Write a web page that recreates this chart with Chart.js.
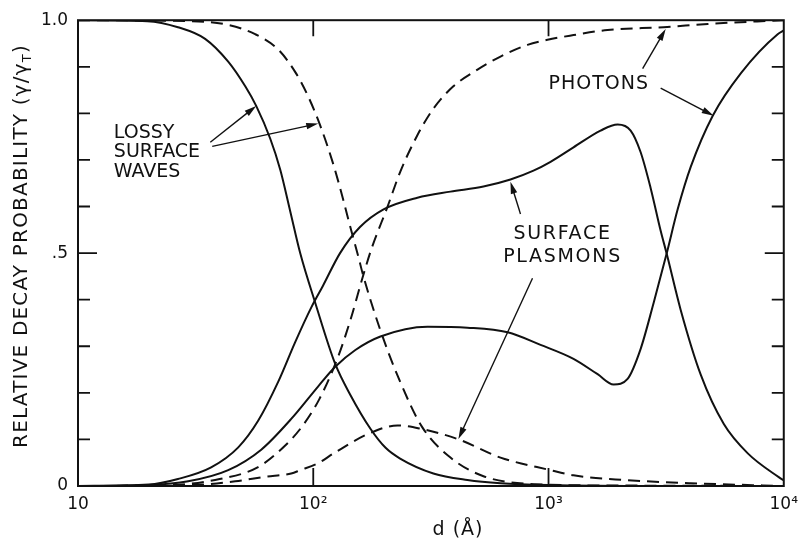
<!DOCTYPE html>
<html>
<head>
<meta charset="utf-8">
<script src="https://cdn.jsdelivr.net/npm/chart.js@4.4.1/dist/chart.umd.min.js"></script>
<style>
  html, body { margin: 0; padding: 0; background: #fff; }
  #wrap { width: 806px; height: 542px; }
</style>
</head>
<body>
<div id="wrap"><canvas id="chart" width="806" height="542"></canvas></div>
<script>
// separation d in Å, relative decay probability gamma/gamma_T
const lossySolidD = [10, 19.7, 26.6, 34.7, 43.5, 51.4, 57.2, 65.6, 72.4, 79.8, 88.1, 102, 124, 144, 175, 203, 234, 324, 452, 625, 1000, 3000, 10000];
const lossySolidV = [1.0, 0.998, 0.985, 0.96, 0.911, 0.858, 0.816, 0.746, 0.679, 0.59, 0.499, 0.393, 0.262, 0.195, 0.123, 0.082, 0.059, 0.027, 0.013, 0.006, 0.002, 0, 0];

const lossyDashedD = [10, 30, 43.5, 56.6, 71, 84, 95, 107, 122, 134, 146, 155, 163, 193, 234, 290, 383, 529, 863, 2000, 10000];
const lossyDashedV = [1.0, 0.998, 0.99, 0.97, 0.937, 0.888, 0.837, 0.774, 0.689, 0.615, 0.543, 0.495, 0.452, 0.334, 0.224, 0.127, 0.061, 0.021, 0.004, 0.001, 0];

const photonsDashedD = [10, 25, 40, 58, 76, 90, 106, 127, 144, 163, 177, 207, 234, 277, 324, 394, 499, 625, 814, 990, 1277, 1782, 3085, 4753, 10000];
const photonsDashedV = [0, 0.002, 0.015, 0.04, 0.087, 0.129, 0.186, 0.275, 0.357, 0.452, 0.51, 0.6, 0.674, 0.753, 0.81, 0.858, 0.894, 0.922, 0.947, 0.958, 0.968, 0.979, 0.985, 0.992, 1.0];

const plasmonsDashedD = [10, 30, 46.6, 62.5, 80.6, 88, 105, 122, 175, 228, 285, 410, 625, 1020, 1277, 2086, 4022, 10000];
const plasmonsDashedV = [0, 0.002, 0.01, 0.02, 0.027, 0.034, 0.049, 0.07, 0.114, 0.13, 0.123, 0.101, 0.061, 0.034, 0.023, 0.013, 0.006, 0];

const plasmonsSolidD = [10, 20, 26.6, 36.8, 48, 58.3, 71, 83.8, 98, 110, 130, 158, 199, 277, 383, 529, 689, 863, 1020, 1277, 1664, 1968, 2234, 2462, 2716, 2997, 3178, 3646, 4436, 5561, 7031, 9520, 10000];
const plasmonsSolidV = [0, 0.003, 0.015, 0.04, 0.083, 0.14, 0.224, 0.309, 0.383, 0.43, 0.5, 0.556, 0.594, 0.619, 0.632, 0.643, 0.658, 0.677, 0.696, 0.727, 0.763, 0.776, 0.763, 0.717, 0.64, 0.548, 0.499, 0.378, 0.239, 0.133, 0.07, 0.019, 0.012];

const photonsSolidD = [10, 20, 29.4, 43.5, 60.1, 80.6, 105, 124, 151, 193, 306, 452, 670, 925, 1277, 1617, 1891, 2168, 2462, 2797, 3178, 3540, 4022, 4990, 6565, 9420, 10000];
const photonsSolidV = [0, 0.002, 0.01, 0.034, 0.078, 0.144, 0.214, 0.256, 0.292, 0.321, 0.342, 0.34, 0.33, 0.303, 0.273, 0.24, 0.218, 0.23, 0.294, 0.393, 0.499, 0.594, 0.685, 0.795, 0.886, 0.97, 0.978];

const xTicks = [10, 100, 1000, 10000];
const xTickLabels = ["10", "10²", "10³", "10⁴"];
const yTicks = [0, 0.5, 1.0];
const yTickLabels = ["0", ".5", "1.0"];
const yMinorTicks = [0.1, 0.2, 0.3, 0.4, 0.6, 0.7, 0.8, 0.9];

// labels and arrows, anchored in data coordinates
const labels = [
  { lines: ["LOSSY", "SURFACE", "WAVES"], d: 14.2, v: [0.748, 0.706, 0.664], align: "left", spacing: 0 },
  { lines: ["PHOTONS"], d: 1000, v: [0.852], align: "left", spacing: 1 },
  { lines: ["SURFACE", "PLASMONS"], d: 1147, v: [0.531, 0.48], align: "center", spacing: 1.7 },
];
const arrows = [
  [36.5, 0.738, 57.2, 0.816],
  [37.2, 0.729, 105, 0.778],
  [2512, 0.896, 3148, 0.981],
  [2997, 0.854, 5036, 0.795],
  [760, 0.584, 689, 0.653],
  [855, 0.446, 414, 0.101],
];

const INK = "#111";
const FONT = "DejaVu Sans";

function pts(ds, vs) {
  return ds.map((d, i) => ({ x: d, y: vs[i] }));
}

function line(ds, vs, dashed) {
  return {
    data: pts(ds, vs),
    borderColor: INK,
    borderWidth: 2,
    borderDash: dashed ? [12, 7] : [],
    pointRadius: 0,
    fill: false,
    cubicInterpolationMode: "monotone",
  };
}

function drawArrow(ctx, x1, y1, x2, y2) {
  const a = Math.atan2(y2 - y1, x2 - x1);
  const len = 12, half = 3.3;
  ctx.beginPath();
  ctx.moveTo(x1, y1);
  ctx.lineTo(x2 - Math.cos(a) * len * 0.8, y2 - Math.sin(a) * len * 0.8);
  ctx.stroke();
  ctx.beginPath();
  ctx.moveTo(x2, y2);
  ctx.lineTo(x2 - Math.cos(a) * len + Math.sin(a) * half, y2 - Math.sin(a) * len - Math.cos(a) * half);
  ctx.lineTo(x2 - Math.cos(a) * len - Math.sin(a) * half, y2 - Math.sin(a) * len + Math.cos(a) * half);
  ctx.closePath();
  ctx.fill();
}

const decorations = {
  id: "decorations",
  afterDatasetsDraw(chart) {
    const { ctx, chartArea: a, scales: { x, y } } = chart;
    ctx.save();
    ctx.strokeStyle = INK;
    ctx.fillStyle = INK;
    ctx.setLineDash([]);

    // frame
    ctx.lineWidth = 2;
    ctx.strokeRect(a.left, a.top, a.right - a.left, a.bottom - a.top);

    // inward tick marks
    ctx.lineWidth = 1.8;
    ctx.beginPath();
    yMinorTicks.concat([0.5]).forEach((v) => {
      const py = y.getPixelForValue(v);
      const l = v === 0.5 ? 19 : 12;
      ctx.moveTo(a.left, py); ctx.lineTo(a.left + l, py);
      ctx.moveTo(a.right, py); ctx.lineTo(a.right - l, py);
    });
    [100, 1000].forEach((d) => {
      const px = x.getPixelForValue(d);
      ctx.moveTo(px, a.bottom); ctx.lineTo(px, a.bottom - 18);
      ctx.moveTo(px, a.top); ctx.lineTo(px, a.top + 16);
    });
    ctx.stroke();

    // curve labels
    ctx.font = "19px '" + FONT + "'";
    ctx.textBaseline = "alphabetic";
    labels.forEach((lb) => {
      ctx.letterSpacing = lb.spacing + "px";
      ctx.textAlign = lb.align;
      lb.lines.forEach((t, i) => {
        ctx.fillText(t, x.getPixelForValue(lb.d), y.getPixelForValue(lb.v[i]));
      });
    });

    // arrows
    ctx.lineWidth = 1.4;
    arrows.forEach(([d1, v1, d2, v2]) => {
      drawArrow(ctx, x.getPixelForValue(d1), y.getPixelForValue(v1), x.getPixelForValue(d2), y.getPixelForValue(v2));
    });

    // x-axis title
    ctx.font = "19px '" + FONT + "'";
    ctx.letterSpacing = "1px";
    ctx.textAlign = "center";
    ctx.fillText("d (Å)", a.left + 380, 535);

    // y-axis title with subscript
    const main = "RELATIVE DECAY PROBABILITY (\u03B3/\u03B3";
    ctx.font = "20px '" + FONT + "'";
    ctx.letterSpacing = "1.2px";
    const wMain = ctx.measureText(main).width;
    ctx.font = "13px '" + FONT + "'";
    const wSub = ctx.measureText("T").width;
    ctx.font = "20px '" + FONT + "'";
    const wEnd = ctx.measureText(")").width;
    const total = wMain + wSub + wEnd;
    ctx.translate(27, 246);
    ctx.rotate(-Math.PI / 2);
    ctx.textAlign = "left";
    let cx = -total / 2;
    ctx.fillText(main, cx, 0);
    cx += wMain;
    ctx.font = "13px '" + FONT + "'";
    ctx.fillText("T", cx, 4);
    cx += wSub;
    ctx.font = "20px '" + FONT + "'";
    ctx.fillText(")", cx, 0);
    ctx.restore();
  },
};

new Chart(document.getElementById("chart"), {
  type: "line",
  data: {
    datasets: [
      line(lossySolidD, lossySolidV, false),
      line(lossyDashedD, lossyDashedV, true),
      line(photonsDashedD, photonsDashedV, true),
      line(plasmonsDashedD, plasmonsDashedV, true),
      line(plasmonsSolidD, plasmonsSolidV, false),
      line(photonsSolidD, photonsSolidV, false),
    ],
  },
  options: {
    responsive: false,
    animation: false,
    layout: { padding: { left: 0, right: 22, top: 13, bottom: 0 } },
    plugins: { legend: { display: false }, tooltip: { enabled: false } },
    scales: {
      x: {
        type: "logarithmic",
        min: 10,
        max: 10000,
        afterBuildTicks: (s) => { s.ticks = xTicks.map((v) => ({ value: v })); },
        afterFit: (s) => { s.height = 56; },
        ticks: {
          autoSkip: false,
          maxRotation: 0,
          padding: 8,
          color: INK,
          font: { family: FONT, size: 17 },
          callback: (v, i) => xTickLabels[i],
        },
        grid: { display: false, drawTicks: false },
        border: { display: false },
      },
      y: {
        min: 0,
        max: 1,
        afterBuildTicks: (s) => { s.ticks = yTicks.map((v) => ({ value: v })); },
        afterFit: (s) => { s.width = 78; },
        ticks: {
          padding: 10,
          color: INK,
          font: { family: FONT, size: 17 },
          callback: (v, i) => yTickLabels[i],
        },
        grid: { display: false, drawTicks: false },
        border: { display: false },
      },
    },
  },
  plugins: [decorations],
});
</script>
</body>
</html>
